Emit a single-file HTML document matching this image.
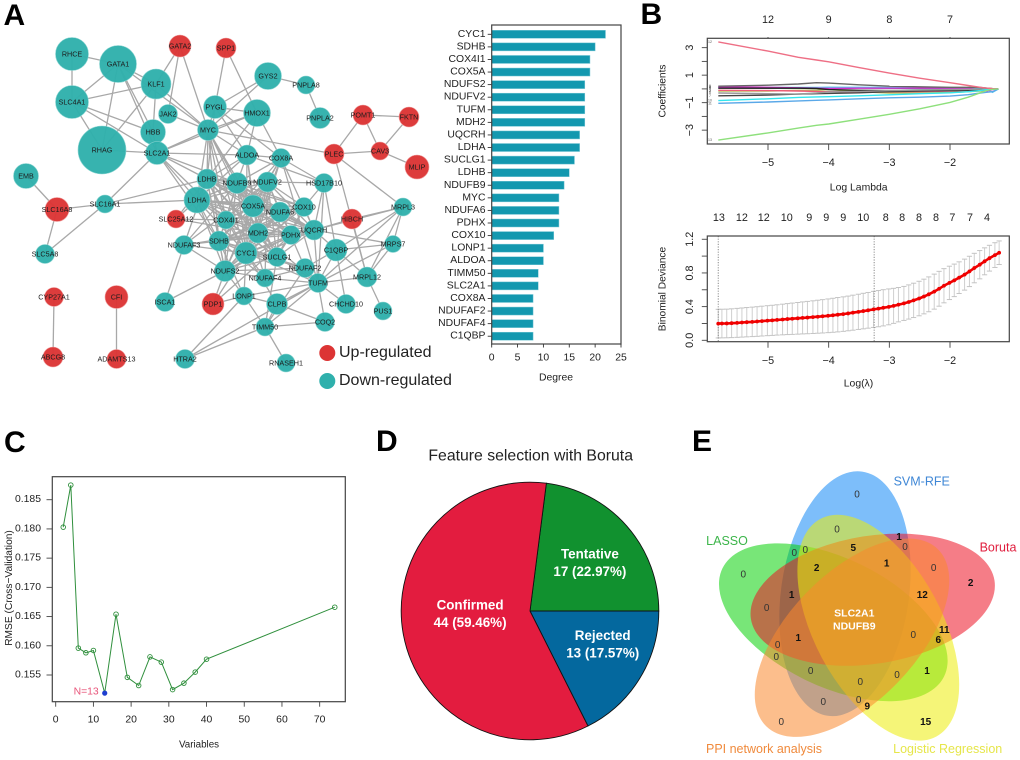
<!DOCTYPE html>
<html lang="en">
<head>
<meta charset="utf-8">
<title>Multi-panel feature selection figure</title>
<style>
html,body{margin:0;padding:0;background:#fff;}
svg{display:block;font-family:"Liberation Sans",Arial,sans-serif;}
</style>
</head>
<body>
<svg id="fig" width="1020" height="760" viewBox="0 0 1020 760" xmlns="http://www.w3.org/2000/svg">
  <g id="panelA"></g>
  <g id="panelA2"></g>
  <g id="panelB1"></g>
  <g id="panelB2"></g>
  <g id="panelC"></g>
  <g id="panelD"></g>
  <g id="panelE"></g>
  <g id="letters"></g>
</svg>
<script>
/* ---------- chart data ---------- */
const barCategories = ['CYC1','SDHB','COX4I1','COX5A','NDUFS2','NDUFV2','TUFM','MDH2','UQCRH','LDHA','SUCLG1','LDHB','NDUFB9','MYC','NDUFA6','PDHX','COX10','LONP1','ALDOA','TIMM50','SLC2A1','COX8A','NDUFAF2','NDUFAF4','C1QBP'];
const barValues = [22,20,19,19,18,18,18,18,17,17,16,15,14,13,13,13,12,10,10,9,9,8,8,8,8];
const barTicks = [0,5,10,15,20,25];

const lambdaTicks = [-5,-4,-3,-2];
const coefTopLabels = ['12','9','8','7'];
const coefTicks = [-3,-2,-1,0,1,2,3];
const coefTickLabels = [-3,-1,1,3];
const coefLogLambda = [-5.82,-5,-4.5,-4.2,-4,-3.5,-3,-2.5,-2,-1.7,-1.5,-1.4,-1.3,-1.2];
const coefTeal = [0.08,0.06,0.05,0.08,0.1,0.08,0.05,0.02,0.01,0.01,0,0,0,0];
const coefOlive = [-0.15,-0.15,-0.1,-0.1,-0.05,-0.2,-0.3,-0.3,-0.27,-0.2,-0.15,-0.08,-0.02,0];
const coefPink = [-0.1,-0.12,-0.15,-0.18,-0.2,-0.22,-0.22,-0.2,-0.15,-0.1,-0.08,-0.03,0,0];
const coefLightBlue = [0.1,0.1,0.1,0.1,0.12,0.12,0.1,0.08,0.06,0.05,0.02,-0.02,-0.25,0];
const coefMagenta = [0.15,0.12,0.08,0.05,0.03,0.05,0.05,0.05,0.05,0.05,-0.1,-0.15,-0.05,0];
const coefBlack = [0.05,0.05,0.05,0.03,-0.05,-0.1,-0.12,-0.13,-0.13,-0.1,-0.06,-0.03,0,0];
const coefBlackLow = [-0.5,-0.45,-0.38,-0.35,-0.33,-0.28,-0.2,-0.15,-0.12,-0.08,-0.04,-0.01,0,0];
const coefGreyLow = [-0.3,-0.35,-0.38,-0.3,-0.22,-0.18,-0.12,-0.08,-0.05,-0.03,-0.02,0,0,0];
const coefGreyHigh = [0.2,0.27,0.36,0.45,0.42,0.3,0.2,0.15,0.12,0.12,0.1,0.06,0.02,0];
const coefCyan = [-0.85,-0.72,-0.62,-0.58,-0.57,-0.5,-0.43,-0.35,-0.28,-0.2,-0.12,-0.06,-0.02,0];
const coefBlue = [-1.05,-0.95,-0.87,-0.83,-0.8,-0.72,-0.65,-0.6,-0.52,-0.42,-0.3,-0.25,-0.2,0];
const coefRed = [3.42,2.75,2.3,2.1,1.97,1.55,1.15,0.78,0.45,0.25,0.12,0.06,0.02,0];
const coefGreen = [-3.72,-3.2,-2.85,-2.65,-2.55,-2.2,-1.85,-1.45,-0.98,-0.6,-0.28,-0.12,-0.03,0];

const cvLogLambda = [-5.82,-5.76,-5.68,-5.60,-5.51,-5.43,-5.35,-5.26,-5.18,-5.10,-5.01,-4.93,-4.85,-4.76,-4.68,-4.60,-4.51,-4.43,-4.35,-4.26,-4.18,-4.10,-4.01,-3.93,-3.85,-3.76,-3.68,-3.60,-3.51,-3.43,-3.35,-3.26,-3.18,-3.10,-3.01,-2.93,-2.85,-2.76,-2.68,-2.60,-2.51,-2.43,-2.35,-2.26,-2.18,-2.10,-2.01,-1.93,-1.85,-1.76,-1.68,-1.60,-1.51,-1.43,-1.35,-1.26,-1.19];
const cvDeviance = [0.198,0.199,0.200,0.203,0.207,0.211,0.215,0.219,0.223,0.228,0.233,0.237,0.242,0.247,0.252,0.256,0.261,0.266,0.270,0.275,0.280,0.285,0.291,0.297,0.304,0.311,0.319,0.328,0.338,0.347,0.356,0.367,0.376,0.386,0.397,0.409,0.423,0.438,0.455,0.474,0.496,0.520,0.546,0.578,0.612,0.648,0.682,0.712,0.744,0.780,0.818,0.858,0.898,0.938,0.975,1.012,1.040];
const cvError = [0.170,0.170,0.170,0.171,0.172,0.173,0.174,0.175,0.176,0.177,0.178,0.179,0.180,0.182,0.184,0.186,0.188,0.190,0.192,0.194,0.196,0.198,0.200,0.202,0.204,0.205,0.206,0.208,0.209,0.211,0.212,0.214,0.215,0.215,0.213,0.208,0.204,0.202,0.203,0.204,0.205,0.206,0.207,0.208,0.207,0.203,0.198,0.193,0.188,0.184,0.180,0.175,0.168,0.160,0.153,0.147,0.140];
const cvTicks = [0,0.2,0.4,0.6,0.8,1.0,1.2];
const cvTickLabels = ['0.0','0.4','0.8','1.2'];
const cvTopLabels = ['13','12','12','10','9','9','9','10','8','8','8','8','7','7','4'];
const cvTopLambda = [-5.81,-5.43,-5.07,-4.69,-4.32,-4.04,-3.76,-3.43,-3.06,-2.79,-2.51,-2.23,-1.96,-1.67,-1.39];
const cvLambdaMin = -5.82;
const cvLambda1se = -3.25;

const rmseVariables = [2,4,6,8,10,13,16,19,22,25,28,31,34,37,40,74];
const rmseValues = [0.1803,0.1875,0.1596,0.1588,0.1592,0.1519,0.1654,0.1546,0.1532,0.1581,0.1572,0.1525,0.1536,0.1555,0.1577,0.1666];
const rmseBest = 13;
const rmseXTicks = [0,10,20,30,40,50,60,70];
const rmseYTicks = [0.155,0.160,0.165,0.170,0.175,0.180,0.185];

const pieLabels = ['Tentative','Rejected','Confirmed'];
const pieCounts = [17,13,44];

/* ---------- network layout (diagram, no axes) ---------- */
const networkNodes = [
['RHCE',72,54,16.5,'d'],['GATA1',118,64,18.5,'d'],['GATA2',180,46,11,'u'],['SPP1',226,48,10,'u'],['KLF1',156,84,15,'d'],['SLC4A1',72,102,16.5,'d'],['JAK2',168,114,9.5,'d'],['PYGL',215,107,11.5,'d'],['HBB',153,132,12.5,'d'],['MYC',208,130,10.5,'d'],['RHAG',102,150,24,'d'],['SLC2A1',157,153,11.5,'d'],['EMB',26,176,12.5,'d'],['LDHB',207,179,10,'d'],['GYS2',268,76,13.5,'d'],['PNPLA8',306,85,9,'d'],['PNPLA2',320,118,10.5,'d'],['HMOX1',257,113,13.5,'d'],['POMT1',363,115,10,'u'],['FKTN',409,117,10,'u'],['PLEC',334,154,10,'u'],['CAV3',380,151,9,'u'],['MLIP',417,167,12,'u'],['ALDOA',247,155,10,'d'],['COX8A',281,158,9.5,'d'],['NDUFB9',237,183,10.5,'d'],['NDUFV2',267.5,182,10,'d'],['HSD17B10',324,183,9.5,'d'],
['SLC16A8',57,209.5,12,'u'],['SLC16A1',105,204,9,'d'],['LDHA',197,200,13,'d'],['SLC25A12',176,219,9,'u'],['COX4I1',226,220,9,'d'],['SDHB',219,241,10,'d'],['NDUFAF3',184,245,9.5,'d'],['SLC5A8',45,254,9.5,'d'],['NDUFS2',225,271,10.5,'d'],['CYP27A1',54,297,9.5,'u'],['CFI',116.5,297,11.5,'u'],['ISCA1',165,302,9.5,'d'],['PDP1',213,304,11,'u'],['ABCG8',53,357,10,'u'],['ADAMTS13',116.5,359,9.5,'u'],['HTRA2',185,359,9.5,'d'],
['COX5A',253,206,11,'d'],['NDUFA6',280,212,10,'d'],['COX10',304,207,9.5,'d'],['MRPL3',403,207,9,'d'],['HIBCH',352,219,10,'u'],['MDH2',258,233,10,'d'],['PDHX',291,235,9.5,'d'],['UQCRH',314,230,10,'d'],['C1QBP',336,250,11,'d'],['MRPS7',393,244,8.5,'d'],['CYC1',246,253,11,'d'],['SUCLG1',277,257,9.5,'d'],['NDUFAF2',305,268,9.5,'d'],['NDUFAF4',265,278,9,'d'],['TUFM',318,283,9.5,'d'],['MRPL12',367,277,10,'d'],['LONP1',244,296,9,'d'],['CLPB',277,304,10.5,'d'],['CHCHD10',346,304,9.5,'d'],['PUS1',383,311,9,'d'],['TIMM50',265,327,9,'d'],['COQ2',325,322,9.5,'d'],['RNASEH1',286,363,9,'d']
];
const networkCore = ['CYC1','SDHB','COX4I1','COX5A','NDUFS2','NDUFV2','MDH2','NDUFB9','NDUFA6','UQCRH','SUCLG1','PDHX','COX10','LDHA','LDHB'];
const networkEdges = ['RHCE GATA1','RHCE SLC4A1','GATA1 SLC4A1','GATA1 RHAG','GATA1 KLF1','GATA1 HBB','GATA1 MYC','GATA1 SLC2A1','SLC4A1 KLF1','SLC4A1 RHAG','SLC4A1 HBB','SLC4A1 SLC2A1','KLF1 RHAG','KLF1 HBB','KLF1 MYC','GATA2 KLF1','GATA2 JAK2','GATA2 MYC','SPP1 PYGL','SPP1 HMOX1','JAK2 MYC','RHAG SLC2A1','HBB SLC2A1','SLC2A1 MYC','SLC2A1 SLC16A1','SLC2A1 ALDOA','SLC2A1 LDHB','SLC2A1 LDHA','SLC2A1 NDUFB9','SLC2A1 COX4I1','SLC2A1 SDHB','MYC PYGL','MYC HMOX1','MYC LDHA','MYC LDHB','MYC ALDOA','MYC COX5A','MYC CYC1','MYC SDHB','MYC GYS2','MYC PLEC','MYC NDUFB9','MYC COX4I1','MYC MDH2','PYGL GYS2','PYGL ALDOA','PYGL LDHB','PYGL COX8A','GYS2 PNPLA8','PNPLA8 PNPLA2','HMOX1 ALDOA','HMOX1 COX8A','HMOX1 SLC2A1','HMOX1 PYGL','HMOX1 LDHB','PLEC POMT1','PLEC CAV3','POMT1 FKTN','POMT1 CAV3','CAV3 FKTN','CAV3 MLIP','PLEC MRPL3','PLEC MRPL12','ALDOA COX8A','ALDOA HSD17B10','ALDOA LDHB','ALDOA NDUFB9','ALDOA LDHA','ALDOA COX5A','ALDOA MDH2','ALDOA CYC1','COX8A HSD17B10','NDUFV2 HSD17B10','COX8A TUFM','COX8A NDUFV2','COX8A NDUFB9','COX8A COX5A','COX8A COX4I1','COX8A CYC1','COX8A MDH2','COX8A UQCRH','HSD17B10 COX10','HSD17B10 UQCRH','HSD17B10 C1QBP','HSD17B10 TUFM','EMB SLC16A8','SLC16A8 SLC16A1','SLC16A8 SLC5A8','SLC16A1 SLC5A8','SLC16A1 LDHA','SLC16A1 LDHB','CYP27A1 ABCG8','CFI ADAMTS13','ISCA1 NDUFS2','ISCA1 NDUFAF3','NDUFAF3 SDHB','NDUFAF3 CYC1','NDUFAF3 NDUFV2','NDUFAF3 LDHB','NDUFAF3 NDUFB9','NDUFAF3 NDUFS2','NDUFAF3 MDH2','SLC25A12 COX4I1','SLC25A12 LDHB','SLC25A12 MDH2','SLC25A12 LDHA','HTRA2 LONP1','HTRA2 TIMM50','HTRA2 TUFM','PDP1 PDHX','PDP1 NDUFS2','PDP1 LONP1','PDP1 CYC1','LONP1 TUFM','LONP1 CLPB','LONP1 TIMM50','LONP1 CYC1','LONP1 SDHB','LONP1 NDUFS2','CLPB TIMM50','CLPB COQ2','CLPB TUFM','CLPB CYC1','TIMM50 COQ2','TIMM50 TUFM','TIMM50 RNASEH1','TIMM50 SUCLG1','TIMM50 NDUFAF2','COQ2 TUFM','TUFM C1QBP','TUFM MRPL12','TUFM MRPS7','TUFM MRPL3','TUFM CHCHD10','TUFM NDUFAF2','TUFM NDUFAF4','TUFM UQCRH','TUFM SUCLG1','TUFM CYC1','TUFM MDH2','C1QBP MRPS7','C1QBP MRPL3','C1QBP CHCHD10','C1QBP NDUFAF2','C1QBP UQCRH','HIBCH MRPL3','HIBCH UQCRH','HIBCH MRPL12','MRPL3 MRPS7','MRPL3 MRPL12','MRPL3 UQCRH','MRPS7 MRPL12','MRPS7 UQCRH','MRPL12 PUS1','MRPL12 C1QBP','NDUFAF2 NDUFAF4','NDUFAF2 CYC1','NDUFAF2 NDUFS2','NDUFAF2 SDHB','NDUFAF2 NDUFV2','NDUFAF4 CYC1','NDUFAF4 NDUFS2','NDUFAF4 SDHB','NDUFAF4 NDUFV2','NDUFAF4 NDUFB9'];

/* ---------- helpers ---------- */
const NS = 'http://www.w3.org/2000/svg';
function make(parent, tag, name, props) {
  const el = document.createElementNS(NS, tag);
  
  
  Object.keys(props).forEach(function (k) { el.setAttribute(k, props[k]); });
  parent.appendChild(el);
  return el;
}
function seg(parent, name, x1, y1, x2, y2, stroke, width) {
  return make(parent, 'line', name, {x1: x1, y1: y1, x2: x2, y2: y2, stroke: stroke, 'stroke-width': width});
}
function txt(parent, name, str, x, y, size, opts) {
  const o = opts || {};
  const props = {x: x, y: y, 'font-size': size, fill: o.fill || '#222', 'text-anchor': o.anchor || 'middle', 'dominant-baseline': 'central'};
  if (o.weight) props['font-weight'] = o.weight;
  if (o.rotate) props.transform = 'rotate(-90 ' + x + ' ' + y + ')';
  const el = make(parent, 'text', name, props);
  el.textContent = str;
  return el;
}
function frame(parent, name, x, y, w, h, stroke) {
  return make(parent, 'rect', name, {x: x, y: y, width: w, height: h, fill: 'none', stroke: stroke || '#444', 'stroke-width': 1.2});
}
function minus(v) { return String(v).replace('-', '\u2212'); }

/* ---------- A: network ---------- */
(function () {
  const g = document.getElementById('panelA');
  const byName = {};
  networkNodes.forEach(function (n) { byName[n[0]] = n; });
  const edgeG = make(g, 'g', 'network-edges', {stroke: '#a8a8a8', 'stroke-width': 1.3});
  const pairs = networkEdges.map(function (e) { return e.split(' '); });
  networkCore.forEach(function (a, i) {
    networkCore.slice(i + 1).forEach(function (b) { pairs.push([a, b]); });
  });
  pairs.forEach(function (p) {
    const a = byName[p[0]], b = byName[p[1]];
    make(edgeG, 'line', 'edge-' + p[0].toLowerCase() + '-' + p[1].toLowerCase(), {x1: a[1], y1: a[2], x2: b[1], y2: b[2]});
  });
  networkNodes.forEach(function (n) {
    const isUp = n[4] === 'u';
    make(g, 'circle', 'node-' + n[0].toLowerCase(), {cx: n[1], cy: n[2], r: n[3], fill: isUp ? '#dc3434' : '#2fb0ac', stroke: isUp ? '#f0a0a0' : '#8fd6d3', 'stroke-width': 0.6, 'fill-opacity': 0.96});
  });
  networkNodes.forEach(function (n) {
    txt(g, 'node-label-' + n[0].toLowerCase(), n[0], n[1], n[2], 7.2, {fill: '#1c1c1c'});
  });
  make(g, 'circle', 'legend-up-regulated-dot', {cx: 327.3, cy: 353, r: 8, fill: '#dc3434'});
  txt(g, 'legend-up-regulated', 'Up-regulated', 339, 352.5, 16, {anchor: 'start'});
  make(g, 'circle', 'legend-down-regulated-dot', {cx: 327.3, cy: 381, r: 8, fill: '#2fb0ac'});
  txt(g, 'legend-down-regulated', 'Down-regulated', 339, 380.5, 16, {anchor: 'start'});
})();

/* ---------- A: degree bars ---------- */
function barX(v) { return 491.7 + v * 5.172; }
function barY(i) { return 34.3 + i * 12.58; }
(function () {
  const g = document.getElementById('panelA2');
  barCategories.forEach(function (c, i) {
    const y = barY(i);
    make(g, 'rect', 'bar-' + c.toLowerCase(), {x: barX(0), y: y - 4, width: barX(barValues[i]) - barX(0), height: 8, fill: '#1398af', stroke: '#7cc8d6', 'stroke-width': 0.5});
    seg(g, 'y-tick-' + c.toLowerCase(), barX(0) - 4, y, barX(0), y, '#333', 0.9);
    txt(g, 'y-label-' + c.toLowerCase(), c, 485.5, y, 10.4, {anchor: 'end'});
  });
  frame(g, 'bar-plot-frame', barX(0), 25, barX(25) - barX(0), 319, '#444');
  barTicks.forEach(function (t) {
    seg(g, 'x-tick-' + t, barX(t), 344, barX(t), 347.5, '#333', 0.9);
    txt(g, 'x-label-' + t, String(t), barX(t), 358, 10.4);
  });
  txt(g, 'x-axis-title', 'Degree', 556, 378, 10.4);
})();

/* ---------- B shared ---------- */
function lamX(v) { return 768 + (v + 5) * 60.67; }
function lamAxis(g, yBottom, labelY) {
  lambdaTicks.forEach(function (t) {
    seg(g, 'x-tick-' + t, lamX(t), yBottom, lamX(t), yBottom + 6, '#444', 0.9);
    txt(g, 'x-label-' + t, minus(t), lamX(t), labelY, 10.8);
  });
}

/* ---------- B top: coefficient paths ---------- */
function coefY(v) { return 88.9 - v * 13.75; }
(function () {
  const g = document.getElementById('panelB1');
  const series = [
    ['coef-teal', coefTeal, '#22b5a0'], ['coef-olive', coefOlive, '#b5c45a'], ['coef-pink', coefPink, '#ef5a78'],
    ['coef-light-blue', coefLightBlue, '#5ac8f0'], ['coef-magenta', coefMagenta, '#d030c8'], ['coef-black', coefBlack, '#222222'],
    ['coef-black-low', coefBlackLow, '#444444'], ['coef-grey-low', coefGreyLow, '#9a9a9a'], ['coef-grey-high', coefGreyHigh, '#666666'],
    ['coef-cyan', coefCyan, '#32e6ee'], ['coef-blue', coefBlue, '#5aa8e8'], ['coef-red', coefRed, '#ee6f85'], ['coef-green', coefGreen, '#8ee07c']
  ];
  series.forEach(function (s) {
    const pts = s[1].map(function (v, i) { return lamX(coefLogLambda[i]).toFixed(1) + ',' + coefY(v).toFixed(1); }).join(' ');
    make(g, 'polyline', s[0], {points: pts, fill: 'none', stroke: s[2], 'stroke-width': 1.4});
  });
  series.forEach(function (s) {
    txt(g, s[0] + '-end-label', String(series.indexOf(s) + 1), 710, coefY(s[1][0]), 3.5, {fill: '#555'});
  });
  frame(g, 'coef-plot-frame', 707.3, 38.3, 302, 105.7, '#444');
  coefTopLabels.forEach(function (l, i) {
    const x = lamX(lambdaTicks[i]);
    seg(g, 'top-tick-' + i, x, 37, x, 38.3, '#444', 0.9);
    txt(g, 'top-label-' + i, l, x, 20, 10.8);
  });
  lamAxis(g, 144, 163);
  coefTicks.forEach(function (t) {
    seg(g, 'y-tick-' + t, 701.8, coefY(t), 707.3, coefY(t), '#444', 0.9);
  });
  coefTickLabels.forEach(function (t) {
    txt(g, 'y-label-' + t, minus(t), 690, coefY(t), 10.8, {rotate: true});
  });
  txt(g, 'x-axis-title', 'Log Lambda', 858.7, 188, 10.4);
  txt(g, 'y-axis-title', 'Coefficients', 663, 91, 10.2, {rotate: true});
})();

/* ---------- B bottom: CV deviance ---------- */
function devY(v) { return 340.3 - v * 84.2; }
(function () {
  const g = document.getElementById('panelB2');
  cvLogLambda.forEach(function (l, i) {
    const x = lamX(l), hi = devY(cvDeviance[i] + cvError[i]), lo = devY(cvDeviance[i] - cvError[i]);
    seg(g, 'error-bar-' + i, x, hi, x, lo, '#cfcfcf', 1);
    seg(g, 'error-cap-high-' + i, x - 2.6, hi, x + 2.6, hi, '#c4c4c4', 1);
    seg(g, 'error-cap-low-' + i, x - 2.6, lo, x + 2.6, lo, '#c4c4c4', 1);
  });
  [cvLambdaMin, cvLambda1se].forEach(function (l, i) {
    const line = seg(g, i === 0 ? 'lambda-min-line' : 'lambda-1se-line', lamX(l), 236, lamX(l), 341.7, '#8a8a8a', 1);
    line.setAttribute('stroke-dasharray', '1.2 1.4');
  });
  const devPts = cvLogLambda.map(function (l, i) { return lamX(l).toFixed(1) + ',' + devY(cvDeviance[i]).toFixed(1); }).join(' ');
  make(g, 'polyline', 'deviance-line', {points: devPts, fill: 'none', stroke: '#f00000', 'stroke-width': 2.6});
  cvLogLambda.forEach(function (l, i) {
    make(g, 'circle', 'deviance-point-' + i, {cx: lamX(l), cy: devY(cvDeviance[i]), r: 1.9, fill: '#f00000'});
  });
  frame(g, 'deviance-plot-frame', 707.3, 236, 302, 105.7, '#444');
  cvTopLabels.forEach(function (l, i) {
    txt(g, 'top-label-' + i, l, lamX(cvTopLambda[i]), 218, 10.8);
  });
  lamAxis(g, 341.7, 361);
  cvTicks.forEach(function (t) {
    seg(g, 'y-tick-' + t, 701.8, devY(t), 707.3, devY(t), '#444', 0.9);
  });
  cvTickLabels.forEach(function (t) {
    txt(g, 'y-label-' + t, t, 690, devY(Number(t)), 10.8, {rotate: true});
  });
  txt(g, 'x-axis-title', 'Log(\u03BB)', 858.5, 384, 10.4);
  txt(g, 'y-axis-title', 'Binomial Deviance', 663, 289, 10.2, {rotate: true});
})();

/* ---------- C: RMSE ---------- */
function rmseX(v) { return 55.7 + v * 3.771; }
function rmseY(v) { return 675 - (v - 0.155) * 5843; }
(function () {
  const g = document.getElementById('panelC');
  const pts = rmseVariables.map(function (v, i) { return rmseX(v).toFixed(1) + ',' + rmseY(rmseValues[i]).toFixed(1); }).join(' ');
  make(g, 'polyline', 'rmse-line', {points: pts, fill: 'none', stroke: '#2f8f3c', 'stroke-width': 1});
  rmseVariables.forEach(function (v, i) {
    if (v === rmseBest) {
      make(g, 'circle', 'rmse-best-point', {cx: rmseX(v), cy: rmseY(rmseValues[i]), r: 2.6, fill: '#1e3fd0'});
    } else {
      make(g, 'circle', 'rmse-point-' + v, {cx: rmseX(v), cy: rmseY(rmseValues[i]), r: 2.3, fill: 'none', stroke: '#2f8f3c', 'stroke-width': 0.9});
    }
  });
  const bestIndex = rmseVariables.indexOf(rmseBest);
  txt(g, 'rmse-best-label', 'N=' + rmseBest, rmseX(rmseBest) - 6, rmseY(rmseValues[bestIndex]) - 1, 10.4, {anchor: 'end', fill: '#e8557a'});
  frame(g, 'rmse-plot-frame', 52.3, 476.7, 293, 225, '#444');
  rmseXTicks.forEach(function (t) {
    seg(g, 'x-tick-' + t, rmseX(t), 701.7, rmseX(t), 706.7, '#444', 0.9);
    txt(g, 'x-label-' + t, String(t), rmseX(t), 720, 10.4);
  });
  rmseYTicks.forEach(function (t) {
    seg(g, 'y-tick-' + t, 46.5, rmseY(t), 52.3, rmseY(t), '#444', 0.9);
    txt(g, 'y-label-' + t, t.toFixed(3), 41, rmseY(t), 10.4, {anchor: 'end'});
  });
  txt(g, 'x-axis-title', 'Variables', 199, 745, 9.8);
  txt(g, 'y-axis-title', 'RMSE (Cross\u2212Validation)', 9.5, 588, 10.2, {rotate: true});
})();

/* ---------- D: pie ---------- */
(function () {
  const g = document.getElementById('panelD');
  const cx = 530, cy = 611, r = 128.8;
  const colors = ['#11912f', '#04689e', '#e31c3f'];
  const labelPlace = [[77, 2.4], [80, -7], [60, 7]];
  const total = pieCounts.reduce(function (a, b) { return a + b; }, 0);
  let angle = 7.3;
  function polar(deg, rad) {
    const a = deg * Math.PI / 180;
    return [cx + rad * Math.sin(a), cy - rad * Math.cos(a)];
  }
  txt(g, 'pie-title', 'Feature selection with Boruta', 530.7, 456, 15.8);
  const labelJobs = [];
  pieCounts.forEach(function (c, i) {
    const sweep = c / total * 360;
    const a = polar(angle, r), b = polar(angle + sweep, r);
    const d = 'M' + cx + ',' + cy + ' L' + a[0].toFixed(2) + ',' + a[1].toFixed(2) + ' A' + r + ',' + r + ' 0 ' + (sweep > 180 ? 1 : 0) + ' 1 ' + b[0].toFixed(2) + ',' + b[1].toFixed(2) + ' Z';
    make(g, 'path', 'pie-slice-' + pieLabels[i].toLowerCase(), {d: d, fill: colors[i], stroke: '#111', 'stroke-width': 0.9});
    labelJobs.push([i, polar(angle + sweep / 2 + labelPlace[i][1], labelPlace[i][0])]);
    angle += sweep;
  });
  labelJobs.forEach(function (job) {
    const i = job[0], p = job[1];
    txt(g, 'pie-label-' + pieLabels[i].toLowerCase(), pieLabels[i], p[0], p[1] - 8.7, 13.4, {fill: '#fff', weight: 'bold'});
    txt(g, 'pie-value-' + pieLabels[i].toLowerCase(), pieCounts[i] + ' (' + (pieCounts[i] / total * 100).toFixed(2) + '%)', p[0], p[1] + 8.7, 13.4, {fill: '#fff', weight: 'bold'});
  });
})();

/* ---------- E: Venn ---------- */
(function () {
  const g = document.getElementById('panelE');
  const sets = [
    ['venn-svm-rfe', 845, 593.7, 64, 123.3, 8, '#1288f5'],
    ['venn-lasso', 833.3, 622.3, 123.3, 64, 26, '#09d109'],
    ['venn-boruta', 872.7, 599.7, 123.3, 64, -9, '#ec1224'],
    ['venn-logistic', 878.3, 627.7, 64, 123.3, -28, '#ecec09'],
    ['venn-ppi', 852, 637.7, 64, 123.3, 44, '#fa882e']
  ];
  sets.forEach(function (s) {
    make(g, 'ellipse', s[0], {cx: s[1], cy: s[2], rx: s[3], ry: s[4], fill: s[6], 'fill-opacity': 0.55, transform: 'rotate(' + s[5] + ' ' + s[1] + ' ' + s[2] + ')'});
  });
  const numbers = [
    ['0',857,495,0],['0',837,530,0],['1',899,537.7,1],['0',905,547.3,0],['0',794.3,553.3,0],['0',805.3,550.7,0],['5',853.3,548.7,1],['1',886.7,564,1],['2',816.7,568.3,1],['0',933.7,568.3,0],['2',970.7,583.3,1],['0',743.3,575,0],['1',791.7,595.3,1],['12',922.3,595.3,1],['0',766.7,608.3,0],['11',944.3,630.3,1],['0',913.3,635.3,0],['6',938.3,640.7,1],['1',798.3,638.7,1],['0',777.7,645.7,0],['0',776.3,657.7,0],['0',810.7,671.7,0],['1',927,671.7,1],['0',897,675.7,0],['0',860.3,682.3,0],['0',823.3,702.3,0],['0',858.7,700.7,0],['9',867.3,707,1],['0',781.3,722.3,0],['15',925.7,722.3,1]
  ];
  numbers.forEach(function (n, i) {
    txt(g, 'venn-count-' + i, n[0], n[1], n[2], 10, {fill: n[3] ? '#111' : '#333', weight: n[3] ? 'bold' : 'normal'});
  });
  txt(g, 'venn-core-gene-1', 'SLC2A1', 854.3, 613.3, 10.5, {fill: '#fff', weight: 'bold'});
  txt(g, 'venn-core-gene-2', 'NDUFB9', 854.3, 626.7, 10.5, {fill: '#fff', weight: 'bold'});
  txt(g, 'venn-label-svm-rfe', 'SVM-RFE', 921.7, 481.7, 12.5, {fill: '#3f87d6'});
  txt(g, 'venn-label-lasso', 'LASSO', 727, 541, 12.5, {fill: '#3cb54a'});
  txt(g, 'venn-label-boruta', 'Boruta', 998, 547.7, 12.5, {fill: '#e01d3d'});
  txt(g, 'venn-label-ppi', 'PPI network analysis', 764, 749, 12.5, {fill: '#f08a3c'});
  txt(g, 'venn-label-logistic', 'Logistic Regression', 947.7, 749, 12.5, {fill: '#e6e64a'});
})();

/* ---------- panel letters ---------- */
(function () {
  const g = document.getElementById('letters');
  const letters = [['A', 3.5, 25], ['B', 640.5, 24], ['C', 4, 452], ['D', 376, 451], ['E', 692, 451]];
  letters.forEach(function (l) {
    const el = make(g, 'text', 'panel-letter-' + l[0].toLowerCase(), {x: l[1], y: l[2], 'font-size': 30, 'font-weight': 'bold', fill: '#000'});
    el.textContent = l[0];
  });
})();
</script>
</body>
</html>
